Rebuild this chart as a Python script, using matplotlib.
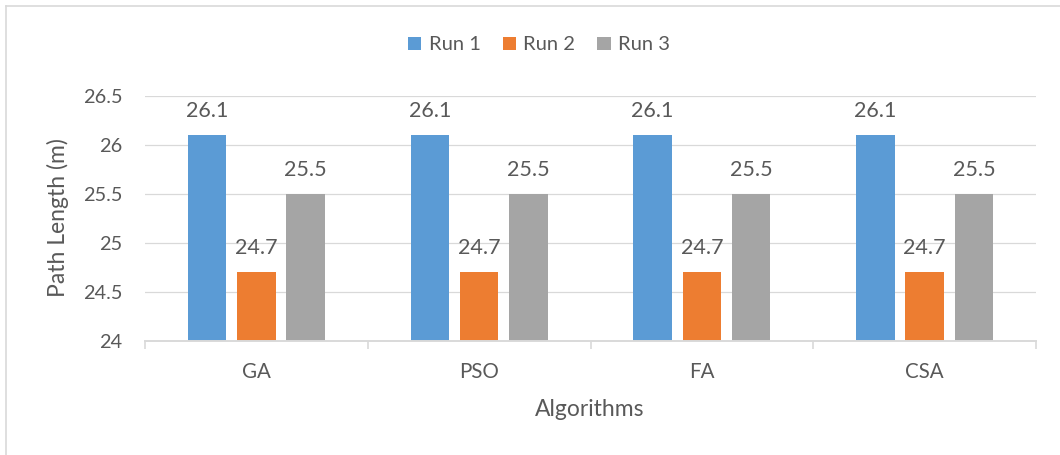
import matplotlib
matplotlib.use("Agg")
import matplotlib.pyplot as plt
from matplotlib.lines import Line2D
from matplotlib.ticker import FixedLocator, NullFormatter
import numpy as np

# Data
algorithms = ["GA", "PSO", "FA", "CSA"]
series_names = ["Run 1", "Run 2", "Run 3"]
run1 = [26.1, 26.1, 26.1, 26.1]
run2 = [24.7, 24.7, 24.7, 24.7]
run3 = [25.5, 25.5, 25.5, 25.5]
y_ticks = [24, 24.5, 25, 25.5, 26, 26.5]
y_tick_labels = ["24", "24.5", "25", "25.5", "26", "26.5"]

colors = ["#5B9BD5", "#ED7D31", "#A5A5A5"]
text_color = "#595959"
grid_color = "#D9D9D9"

plt.rcParams["font.family"] = ["Lato", "DejaVu Sans"]

W, H = 1060, 455
fig = plt.figure(figsize=(W / 100, H / 100), dpi=100)
ax = fig.add_axes([145 / W, 1 - 340.7 / H, (1036 - 145) / W, (340.7 - 95.7) / H])

x = np.arange(len(algorithms))
step = 0.221
width = 0.1725
handles = []
for i, (vals, name, c) in enumerate(zip([run1, run2, run3], series_names, colors)):
    pos = x + (i - 1) * step
    bars = ax.bar(pos, [v - 24 for v in vals], bottom=24, width=width,
                  color=c, label=name, zorder=3)
    handles.append(bars)
    for px, v in zip(pos, vals):
        ax.annotate(f"{v:g}", xy=(px, v), xytext=(0, 13), textcoords="offset points",
                    ha="center", va="baseline", fontsize=15.5, color=text_color)

ax.set_xlim(-0.5, len(algorithms) - 0.5)
ax.set_ylim(24, 26.5)

# y axis
ax.set_yticks(y_ticks)
ax.set_yticklabels(y_tick_labels)
ax.tick_params(axis="y", length=0, pad=16.5, labelsize=14.3, labelcolor=text_color)
for yv in y_ticks[1:]:
    ax.axhline(yv, color=grid_color, linewidth=0.9, zorder=1)

# x axis: labels at centers, tick marks at category boundaries
ax.set_xticks(x)
ax.set_xticklabels(algorithms)
ax.tick_params(axis="x", which="major", length=0, pad=15, labelsize=14.8, labelcolor=text_color)
ax.xaxis.set_minor_locator(FixedLocator(np.arange(-0.5, len(algorithms), 1.0)))
ax.xaxis.set_minor_formatter(NullFormatter())
ax.tick_params(axis="x", which="minor", length=5.5, width=1.2, color=grid_color)

for s in ["top", "right", "left"]:
    ax.spines[s].set_visible(False)
ax.spines["bottom"].set_color(grid_color)
ax.spines["bottom"].set_linewidth(1.4)
ax.spines["bottom"].set_zorder(4)

fig.text(58 / W, 1 - 218 / H, "Path Length (m)", rotation=90, ha="center", va="center",
         fontsize=16.5, color=text_color)
fig.text(590 / W, 1 - 410 / H, "Algorithms", ha="center", va="center",
         fontsize=16.5, color=text_color)

fig.legend(handles=handles, labels=series_names, loc="center",
           bbox_to_anchor=(539 / W, 1 - 45 / H), ncol=3, frameon=False,
           fontsize=14.5, handlelength=0.68, handleheight=0.68,
           handletextpad=0.35, columnspacing=1.1, labelcolor=text_color)

# chart area border (top and left edges)
fig.add_artist(Line2D([6 / W, 1], [1 - 6 / H, 1 - 6 / H], transform=fig.transFigure,
                      color=grid_color, linewidth=1.2))
fig.add_artist(Line2D([6 / W, 6 / W], [0, 1 - 6 / H], transform=fig.transFigure,
                      color=grid_color, linewidth=1.2))

fig.savefig("out.png", dpi=100, facecolor="white")
